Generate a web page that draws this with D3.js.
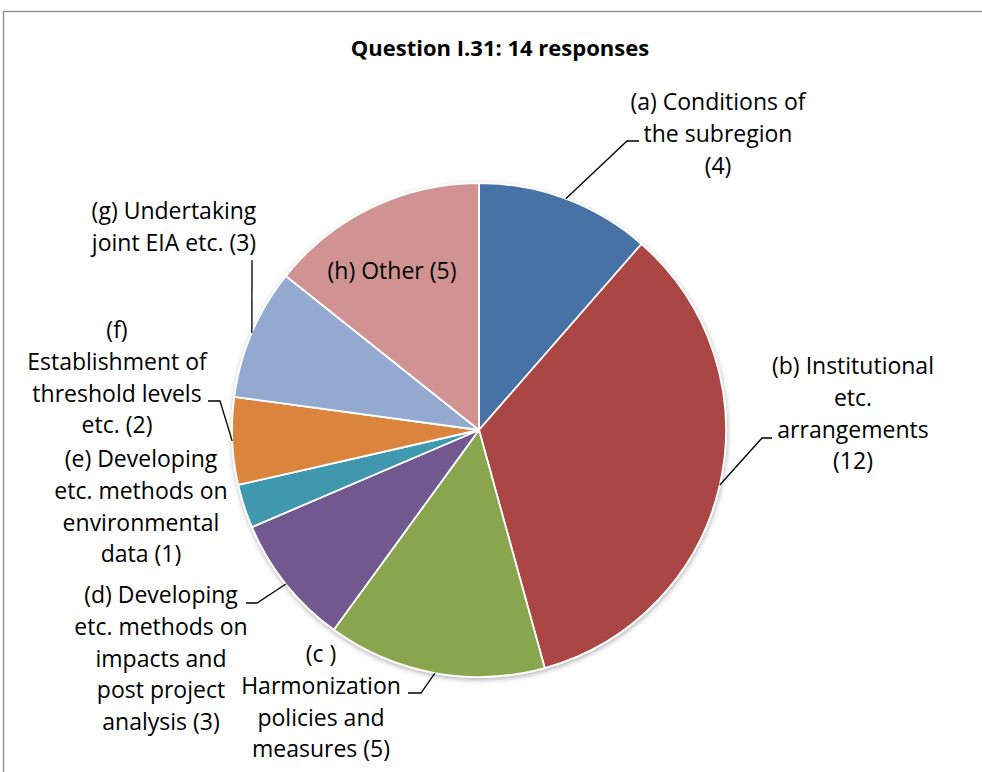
<!DOCTYPE html>
<html>
<head>
<meta charset="utf-8">
<script src="https://cdn.jsdelivr.net/npm/d3@7"></script>
<style>
  body { margin: 0; background: #fff; }
  svg text { font-family: "Open Sans", sans-serif; fill: #000; }
</style>
</head>
<body>
<div id="chart"></div>
<script>
// data
const title = 'Question I.31: 14 responses';
const categories = ['a', 'b', 'c', 'd', 'e', 'f', 'g', 'h'];
const responses = [4, 12, 5, 3, 1, 2, 3, 5];
const labelLines = [
    ['(a) Conditions of', 'the subregion', '(4)'],
    ['(b) Institutional', 'etc.', 'arrangements', '(12)'],
    ['(c )', 'Harmonization', 'policies and', 'measures (5)'],
    ['(d) Developing', 'etc. methods on', 'impacts and', 'post project', 'analysis (3)'],
    ['(e) Developing', 'etc. methods on', 'environmental', 'data (1)'],
    ['(f)', 'Establishment of', 'threshold levels', 'etc. (2)'],
    ['(g) Undertaking', 'joint EIA etc. (3)'],
    ['(h) Other (5)']
];
const colors = ['#4672a6', '#aa4644', '#89a54e', '#71588f', '#4198af', '#db843d', '#93a9cf', '#d19392'];

// label placement (x = centre of text block, y = centre of first line, elbow = leader line bend)
const labelPos = [
    { x: 718, y: 102, elbow: [627, 141], end: [639, 141] },
    { x: 853, y: 366, elbow: [762, 438], end: [772, 438] },
    { x: 321, y: 654, elbow: [421, 693], end: [408, 693] },
    { x: 161, y: 595, elbow: [257, 603], end: [246, 603] },
    { x: 141, y: 459, elbow: null, end: null },
    { x: 117, y: 330, elbow: [220, 401], end: [208, 401] },
    { x: 174, y: 211, elbow: [252, 260], end: [252, 260] },
    { x: 392, y: 271, elbow: null, end: null }
];

let width = 982,
    height = 772,
    cx = 479,
    cy = 430,
    radius = 247,
    lineH = 31.8;

let svg = d3.select('#chart')
    .append('svg')
    .attr('width', width)
    .attr('height', height);

// chart frame (runs off right and bottom)
svg.append('rect')
    .attr('x', 3.5)
    .attr('y', 11.5)
    .attr('width', 1100)
    .attr('height', 900)
    .attr('fill', 'none')
    .attr('stroke', '#868686')
    .attr('stroke-width', 1.3);

let defs = svg.append('defs');
let shadow = defs.append('filter')
    .attr('id', 'shadow')
    .attr('x', '-10%').attr('y', '-10%')
    .attr('width', '120%').attr('height', '120%');
shadow.append('feDropShadow')
    .attr('dx', 0.5)
    .attr('dy', 2)
    .attr('stdDeviation', 2.5)
    .attr('flood-color', '#000')
    .attr('flood-opacity', 0.3);

svg.append('text')
    .attr('x', 500)
    .attr('y', 56)
    .attr('text-anchor', 'middle')
    .style('font-size', '22px')
    .style('font-weight', 'bold')
    .text(title);

let data = categories.map((c, i) => ({ key: c, value: responses[i], lines: labelLines[i] }));

let pie = d3.pie()
    .value(d => d.value)
    .sort(null);

let arc = d3.arc()
    .innerRadius(0)
    .outerRadius(radius);

let arcs = pie(data);

let g = svg.append('g')
    .attr('transform', 'translate(' + cx + ', ' + cy + ')');

g.append('g')
    .attr('filter', 'url(#shadow)')
    .selectAll('path')
    .data(arcs)
    .enter()
    .append('path')
    .attr('d', arc)
    .attr('fill', (d, i) => colors[i])
    .attr('stroke', '#fff')
    .attr('stroke-width', 1.8)
    .attr('stroke-linejoin', 'round');

// leader lines from the middle of each slice's rim
arcs.forEach((d, i) => {
    let p = labelPos[i];
    if (!p.elbow) return;
    let mid = (d.startAngle + d.endAngle) / 2;
    let sx = cx + radius * Math.sin(mid),
        sy = cy - radius * Math.cos(mid);
    let pts = [[sx, sy], p.elbow, p.end];
    svg.append('path')
        .attr('d', d3.line()(pts))
        .attr('fill', 'none')
        .attr('stroke', '#000')
        .attr('stroke-width', 1.3);
});

// labels
arcs.forEach((d, i) => {
    let p = labelPos[i];
    let t = svg.append('text')
        .attr('text-anchor', 'middle')
        .style('font-size', '23px');
    d.data.lines.forEach((line, j) => {
        t.append('tspan')
            .attr('x', p.x)
            .attr('y', p.y + j * lineH + 8)
            .text(line);
    });
});
</script>
</body>
</html>
